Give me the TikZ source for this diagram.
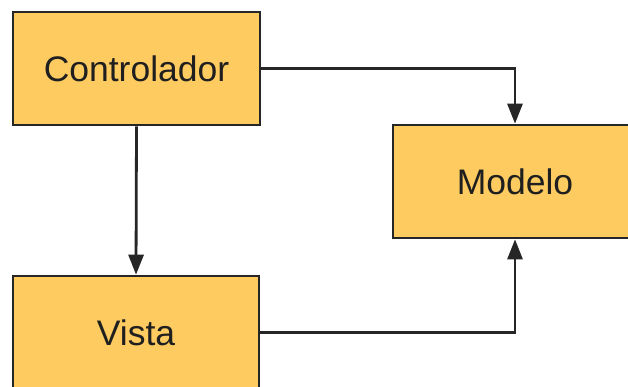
\documentclass[tikz,border=0pt]{standalone}
\usepackage{fontspec}
\setmainfont{Liberation Sans}
\usetikzlibrary{arrows.meta}
\definecolor{boxfill}{RGB}{253,203,96}
\definecolor{edge}{RGB}{38,38,38}
\tikzset{
  block/.style={draw=edge, fill=boxfill, line width=2.6pt, rectangle,
    minimum width=247pt, minimum height=113pt, inner sep=0pt,
    text=black!88, font=\fontsize{35.5}{40}\selectfont},
  link/.style={draw=edge, line width=2.8pt,
    -{Triangle[length=20pt,width=15pt]}}
}
\begin{document}
\begin{tikzpicture}[x=1pt,y=-1pt]
\useasboundingbox (0,0) rectangle (628,387);
\begin{scope}
\clip (0,0) rectangle (628,387);
\node[block] (ctrl) at (136.5,68.5) {Controlador};
\node[block, minimum width=244pt] (model) at (515,181.5) {Modelo};
\node[block, minimum width=246pt] (view) at (136,332.5) {Vista};
\draw[link] (ctrl.east) -| (model.north);
\draw[link] (ctrl.south) -- (view.north);
\draw[link] (view.east) -| (model.south);
\end{scope}
\end{tikzpicture}
\end{document}
